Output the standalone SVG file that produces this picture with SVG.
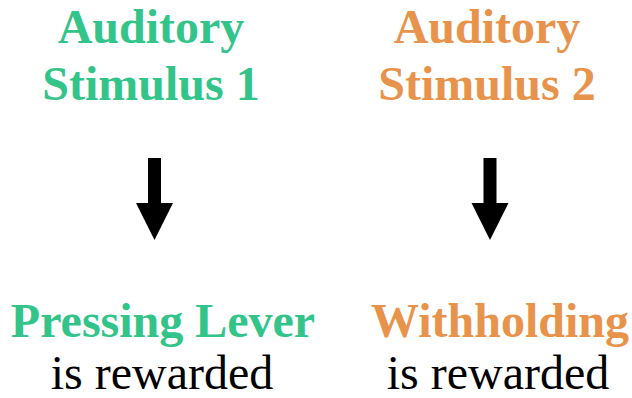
<svg xmlns="http://www.w3.org/2000/svg" width="632" height="398" viewBox="0 0 632 398">
<rect width="632" height="398" fill="#fff"/>
<g id="stim1">
<text transform="translate(151,43) scale(1.3333)" x="0" y="0" font-size="36" font-family="Times New Roman" font-weight="bold" text-anchor="middle" fill="#33c48a">Auditory</text>
<text transform="translate(151,100) scale(1.3333)" x="0" y="0" font-size="36" font-family="Times New Roman" font-weight="bold" text-anchor="middle" fill="#33c48a">Stimulus 1</text>
</g>
<g id="stim2">
<text transform="translate(487,43) scale(1.3333)" x="0" y="0" font-size="36" font-family="Times New Roman" font-weight="bold" text-anchor="middle" fill="#e8934b">Auditory</text>
<text transform="translate(487,100) scale(1.3333)" x="0" y="0" font-size="36" font-family="Times New Roman" font-weight="bold" text-anchor="middle" fill="#e8934b">Stimulus 2</text>
</g>
<g id="resp1">
<text transform="translate(163,337) scale(1.3333)" x="0" y="0" font-size="36" font-family="Times New Roman" font-weight="bold" text-anchor="middle" fill="#33c48a">Pressing Lever</text>
<text transform="translate(162,389) scale(1.3333)" x="0" y="0" font-size="36" font-family="Times New Roman" text-anchor="middle" fill="#000">is rewarded</text>
</g>
<g id="resp2">
<text transform="translate(500,337) scale(1.3333)" x="0" y="0" font-size="36" font-family="Times New Roman" font-weight="bold" text-anchor="middle" fill="#e8934b">Withholding</text>
<text transform="translate(498,389) scale(1.3333)" x="0" y="0" font-size="36" font-family="Times New Roman" text-anchor="middle" fill="#000">is rewarded</text>
</g>
<g id="connectors" fill="#000">
<polygon points="148,158 161,158 161,203 173,203 154.5,240 136,203 148,203"/>
<polygon points="483.5,158 496.5,158 496.5,203 508.5,203 490,240 471.5,203 483.5,203"/>
</g>
</svg>
